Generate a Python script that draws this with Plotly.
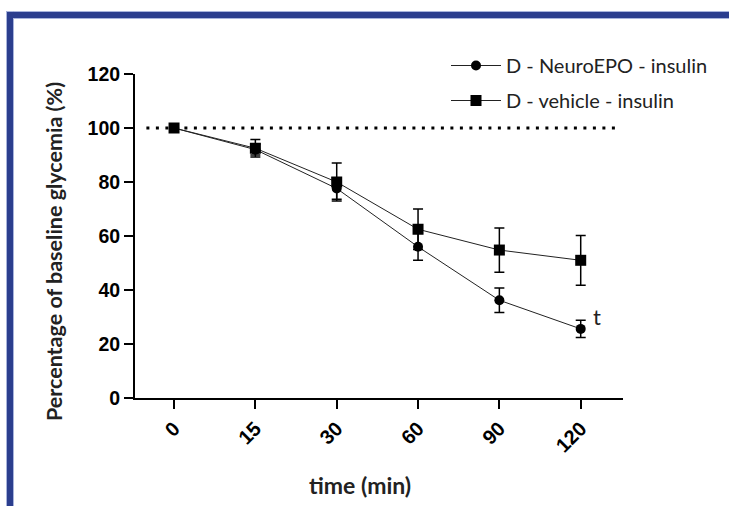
import plotly.graph_objects as go

categories = ["0", "15", "30", "60", "90", "120"]
neuro_vals = [100, 92.0, 77.6, 56.0, 36.2, 25.6]
neuro_err = [0.0, 2.0, 4.0, 5.0, 4.5, 3.2]
vehicle_vals = [100, 92.5, 80.0, 62.5, 54.8, 51.0]
vehicle_err = [0.0, 3.2, 7.0, 7.5, 8.2, 9.2]
baseline = 100
y_ticks = [0, 20, 40, 60, 80, 100, 120]

xi = list(range(len(categories)))

fig = go.Figure()
fig.add_trace(go.Scatter(
    x=xi, y=neuro_vals, name="D - NeuroEPO - insulin", mode="lines+markers",
    line=dict(color="#222222", width=1),
    marker=dict(symbol="circle", size=10, color="black"),
    error_y=dict(type="data", array=neuro_err, visible=True, color="black", thickness=1.5, width=5),
    legendgroup="a",
))
fig.add_trace(go.Scatter(
    x=xi, y=vehicle_vals, name="D - vehicle - insulin", mode="lines+markers",
    line=dict(color="#222222", width=1),
    marker=dict(symbol="square", size=11, color="black"),
    error_y=dict(type="data", array=vehicle_err, visible=True, color="black", thickness=1.5, width=5),
    legendgroup="b",
))

fig.add_shape(type="line", xref="x", yref="y", x0=-0.34, x1=5.45, y0=baseline, y1=baseline,
              line=dict(color="black", width=3, dash="3px,6.5px"), layer="below")

# blue frame
def px2x(px):
    return (px - 135) / 488
def py2y(py):
    return 1 - (py - 74) / 324

fig.add_shape(type="rect", xref="paper", yref="paper", x0=px2x(6.5), x1=px2x(740), y0=py2y(18.5), y1=py2y(11.5),
              fillcolor="#2B3E8E", line=dict(color="#A8B4DC", width=1))
fig.add_shape(type="rect", xref="paper", yref="paper", x0=px2x(6.5), x1=px2x(13.5), y0=py2y(520), y1=py2y(11.5),
              fillcolor="#2B3E8E", line=dict(color="#A8B4DC", width=1))
fig.add_shape(type="rect", xref="paper", yref="paper", x0=px2x(7), x1=px2x(740), y0=py2y(18), y1=py2y(12),
              fillcolor="#2B3E8E", line=dict(width=0))

fig.add_annotation(x=5, y=neuro_vals[5], xref="x", yref="y", text="t", showarrow=False,
                   xshift=16, yshift=12, font=dict(family="Lato", size=22, color="#222222"))
fig.add_annotation(x=px2x(360), y=py2y(485), xref="paper", yref="paper", text="<b>time (min)</b>",
                   xanchor="center", yanchor="middle",
                   showarrow=False, font=dict(family="Lato", size=23, color="#222222"))
fig.add_annotation(x=px2x(54), y=py2y(252), xref="paper", yref="paper",
                   text="<b>Percentage of baseline glycemia (%)</b>", textangle=-90,
                   xanchor="center", yanchor="middle",
                   showarrow=False, font=dict(family="Lato", size=21.5, color="#222222"))

fig.update_layout(
    width=729, height=506,
    margin=dict(l=135, r=106, t=74, b=108),
    plot_bgcolor="white", paper_bgcolor="white",
    showlegend=True,
    legend=dict(x=px2x(446), y=py2y(46), xanchor="left", yanchor="top",
                font=dict(family="Lato", size=20, color="#222222"),
                traceorder="grouped", tracegroupgap=6, itemwidth=50,
                bgcolor="rgba(0,0,0,0)"),
)
fig.update_xaxes(range=[-0.48, 5.52], tickmode="array", tickvals=xi, ticktext=categories,
                 tickangle=-45, showgrid=False, zeroline=False, showline=True, linecolor="black",
                 linewidth=2, ticks="outside", ticklen=9, tickwidth=2, tickcolor="black",
                 tickfont=dict(family="Liberation Sans", size=20, color="black", weight="bold"))
fig.update_yaxes(range=[0, 120], tickmode="array", tickvals=y_ticks, showgrid=False, zeroline=False,
                 showline=True, linecolor="black", linewidth=2, ticks="outside", ticklen=9,
                 tickwidth=2, tickcolor="black",
                 tickfont=dict(family="Liberation Sans", size=19.5, color="black", weight="bold"))

fig.write_html("out.html", config={"displayModeBar": False},
               post_script="document.body.style.margin='0';document.body.style.overflow='hidden';")
